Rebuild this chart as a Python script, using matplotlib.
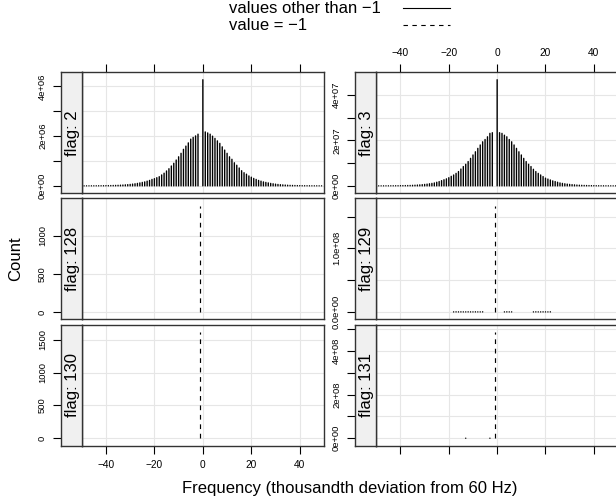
import matplotlib
matplotlib.use('Agg')
import matplotlib.pyplot as plt
from matplotlib.lines import Line2D
import numpy as np

plt.rcParams['font.family'] = ['Liberation Sans', 'DejaVu Sans']

W, H = 616, 501

freq = np.arange(-49, 50)

# flag 2, counts other than -1 (millions), freq -49..49
flag2_other = [
    0.002, 0.0025, 0.003, 0.0035, 0.004, 0.005, 0.006, 0.007, 0.008, 0.010,
    0.012, 0.014, 0.017, 0.020, 0.024, 0.029, 0.035, 0.042, 0.050, 0.060,
    0.072, 0.085, 0.10, 0.12, 0.14, 0.16, 0.19, 0.22, 0.26,
    0.29, 0.33, 0.37, 0.44, 0.51, 0.60, 0.69, 0.80, 0.91, 1.04,
    1.17, 1.31, 1.47, 1.60, 1.73, 1.88, 1.95, 2.01, 2.08,
    0.0, 4.27,
    2.17, 2.13, 2.08, 2.00, 1.91, 1.81, 1.71, 1.57, 1.44, 1.31,
    1.17, 1.07, 0.93, 0.83, 0.72, 0.61, 0.53, 0.47, 0.40, 0.35,
    0.30, 0.26, 0.22, 0.19, 0.16, 0.14, 0.12, 0.10, 0.085, 0.070,
    0.058, 0.048, 0.040, 0.033, 0.027, 0.022, 0.018, 0.015, 0.012, 0.010,
    0.008, 0.007, 0.006, 0.005, 0.004, 0.0035, 0.003, 0.0025, 0.002]

# flag 3, counts other than -1 (units of 1e7), freq -49..49
flag3_other = [
    0.002, 0.0025, 0.003, 0.0035, 0.004, 0.005, 0.006, 0.007, 0.008, 0.010,
    0.012, 0.014, 0.017, 0.020, 0.025, 0.030, 0.037, 0.045, 0.054, 0.065,
    0.078, 0.093, 0.11, 0.13, 0.16, 0.19, 0.23, 0.27, 0.31,
    0.36, 0.42, 0.48, 0.55, 0.63, 0.74, 0.85, 0.95, 1.07, 1.21,
    1.36, 1.50, 1.65, 1.80, 1.94, 2.04, 2.16, 2.31, 2.34,
    0.0, 4.67,
    2.34, 2.31, 2.23, 2.16, 2.04, 1.94, 1.80, 1.65, 1.50, 1.36,
    1.21, 1.07, 0.95, 0.85, 0.73, 0.63, 0.55, 0.48, 0.41, 0.34,
    0.30, 0.26, 0.22, 0.19, 0.16, 0.13, 0.11, 0.093, 0.078, 0.065,
    0.054, 0.045, 0.037, 0.030, 0.025, 0.020, 0.017, 0.014, 0.012, 0.010,
    0.008, 0.007, 0.006, 0.005, 0.004, 0.0035, 0.003, 0.0025, 0.002]

# sparse non -1 counts
flag129_freq = [-18, -17, -16, -15, -14, -13, -12, -11, -10, -9, -8, -7, -6,
                3, 4, 5, 6, 15, 16, 17, 18, 19, 20, 21, 22]
flag129_other = [2e5, 3e5, 2e5, 3e5, 2e5, 2e5, 3e5, 2e5, 2e5, 3e5, 2e5, 2e5, 3e5,
                 2e5, 3e5, 2e5, 2e5, 2e5, 3e5, 2e5, 2e5, 3e5, 2e5, 2e5, 3e5]
flag131_freq = [-13, -3]
flag131_other = [4e5, 4e5]

# counts at value = -1
minus_one = -1
flag128_m1 = 1390
flag129_m1 = 1.67e8
flag130_m1 = 1615
flag131_m1 = 4.85e8

flags = [2, 3, 128, 129, 130, 131]

yticks_2 = [0, 1e6, 2e6, 3e6, 4e6]
ylabels_2 = ['0e+00', '', '2e+06', '', '4e+06']
yticks_3 = [0, 1e7, 2e7, 3e7, 4e7]
ylabels_3 = ['0e+00', '', '2e+07', '', '4e+07']
yticks_128 = [0, 500, 1000]
ylabels_128 = ['0', '500', '1000']
yticks_129 = [0, 5e7, 1e8, 1.5e8]
ylabels_129 = ['0.0e+00', '', '1.0e+08', '']
yticks_130 = [0, 500, 1000, 1500]
ylabels_130 = ['0', '500', '1000', '1500']
yticks_131 = [0, 1e8, 2e8, 3e8, 4e8, 5e8]
ylabels_131 = ['0e+00', '', '2e+08', '', '4e+08', '']

xticks = [-40, -20, 0, 20, 40]
xlabels = ['\u221240', '\u221220', '0', '20', '40']

fig = plt.figure(figsize=(W / 100, H / 100), dpi=100)


def px_axes(x0, y0, x1, y1):
    return fig.add_axes([x0 / W, 1 - y1 / H, (x1 - x0) / W, (y1 - y0) / H])


cols = [(61.0, 81.7, 324.0), (355.0, 376.3, 618.0)]
rows = [(72.3, 193.3), (198.3, 319.4), (324.7, 445.7)]

panels = {
    2: dict(other=(freq, np.array(flag2_other) * 1e6), m1=None,
            yt=yticks_2, yl=ylabels_2),
    3: dict(other=(freq, np.array(flag3_other) * 1e7), m1=None,
            yt=yticks_3, yl=ylabels_3),
    128: dict(other=None, m1=flag128_m1, yt=yticks_128, yl=ylabels_128),
    129: dict(other=(flag129_freq, flag129_other), m1=flag129_m1,
              yt=yticks_129, yl=ylabels_129),
    130: dict(other=None, m1=flag130_m1, yt=yticks_130, yl=ylabels_130),
    131: dict(other=(flag131_freq, flag131_other), m1=flag131_m1,
              yt=yticks_131, yl=ylabels_131),
}

border = '#333333'
for i, flag in enumerate(flags):
    r, c = divmod(i, 2)
    sx0, sx1, px1 = cols[c]
    y0, y1 = rows[r]
    p = panels[flag]

    ymax = 0
    if p['other'] is not None:
        ymax = max(ymax, max(p['other'][1]))
    if p['m1'] is not None:
        ymax = max(ymax, p['m1'])
    ylim = (-0.07 * ymax, 1.07 * ymax)

    ax = px_axes(sx1, y0, px1, y1)
    ax.set_xlim(-50, 50)
    ax.set_ylim(*ylim)
    for t in p['yt']:
        ax.axhline(t, color='#e6e6e6', lw=0.8, zorder=0)
    for t in xticks:
        ax.axvline(t, color='#e6e6e6', lw=0.8, zorder=0)
    if p['other'] is not None:
        for fx, fy in zip(*p['other']):
            # R-style type="h" with round line ends (tiny counts show as dots)
            ax.plot([fx, fx], [0, fy], color='black', lw=1.0,
                    solid_capstyle='round', snap=False, zorder=2)
    if p['m1'] is not None:
        ax.vlines([minus_one], 0, [p['m1']], color='black', lw=0.85,
                  linestyles=[(0, (4, 4))], zorder=2)
    ax.set_yticks([])
    for s in ax.spines.values():
        s.set_color(border)
        s.set_linewidth(1.0)

    # x ticks: top row on top, bottom row on bottom
    ax.set_xticks(xticks)
    ax.tick_params(axis='x', length=6, width=0.8, color='black',
                   labelsize=7.3, pad=4, top=(r == 0), bottom=(r == 2),
                   labeltop=(r == 0 and c == 1), labelbottom=(r == 2 and c == 0))
    if r == 0 and c == 1:
        ax.set_xticklabels(xlabels)
    elif r == 2 and c == 0:
        ax.set_xticklabels(xlabels)

    # strip on the left
    st = px_axes(sx0, y0, sx1, y1)
    st.set_facecolor('#f0f0f0')
    st.set_xlim(0, 1)
    st.set_ylim(*ylim)
    st.set_xticks([])
    st.set_yticks(p['yt'])
    st.set_yticklabels(p['yl'], rotation=90, va='center')
    st.tick_params(axis='y', length=5.5, width=0.8, color='black',
                   labelsize=6.8, pad=4.5)
    for s in st.spines.values():
        s.set_color(border)
        s.set_linewidth(1.0)
    st.text(0.55, 0.5, f'flag: {flag}', transform=st.transAxes, rotation=90,
            ha='center', va='center', fontsize=12)

fig.text(16 / W, 1 - 258.4 / H, 'Count', rotation=90, ha='center',
         va='center', fontsize=12)
fig.text(350 / W, 1 - 488 / H, 'Frequency (thousandth deviation from 60 Hz)',
         ha='center', va='center', fontsize=12)

# legend
fig.text(229.3 / W, 1 - 8.5 / H, 'values other than \u22121', ha='left',
         va='center', fontsize=12)
fig.text(229.3 / W, 1 - 26 / H, 'value = \u22121', ha='left',
         va='center', fontsize=12)
fig.add_artist(Line2D([402.7 / W, 450 / W], [1 - 8 / H, 1 - 8 / H],
                      transform=fig.transFigure, color='black', lw=0.8))
fig.add_artist(Line2D([402.7 / W, 450 / W], [1 - 24.5 / H, 1 - 24.5 / H],
                      transform=fig.transFigure, color='black', lw=0.8,
                      linestyle=(0, (4, 4))))

fig.savefig('out.png', dpi=100)
